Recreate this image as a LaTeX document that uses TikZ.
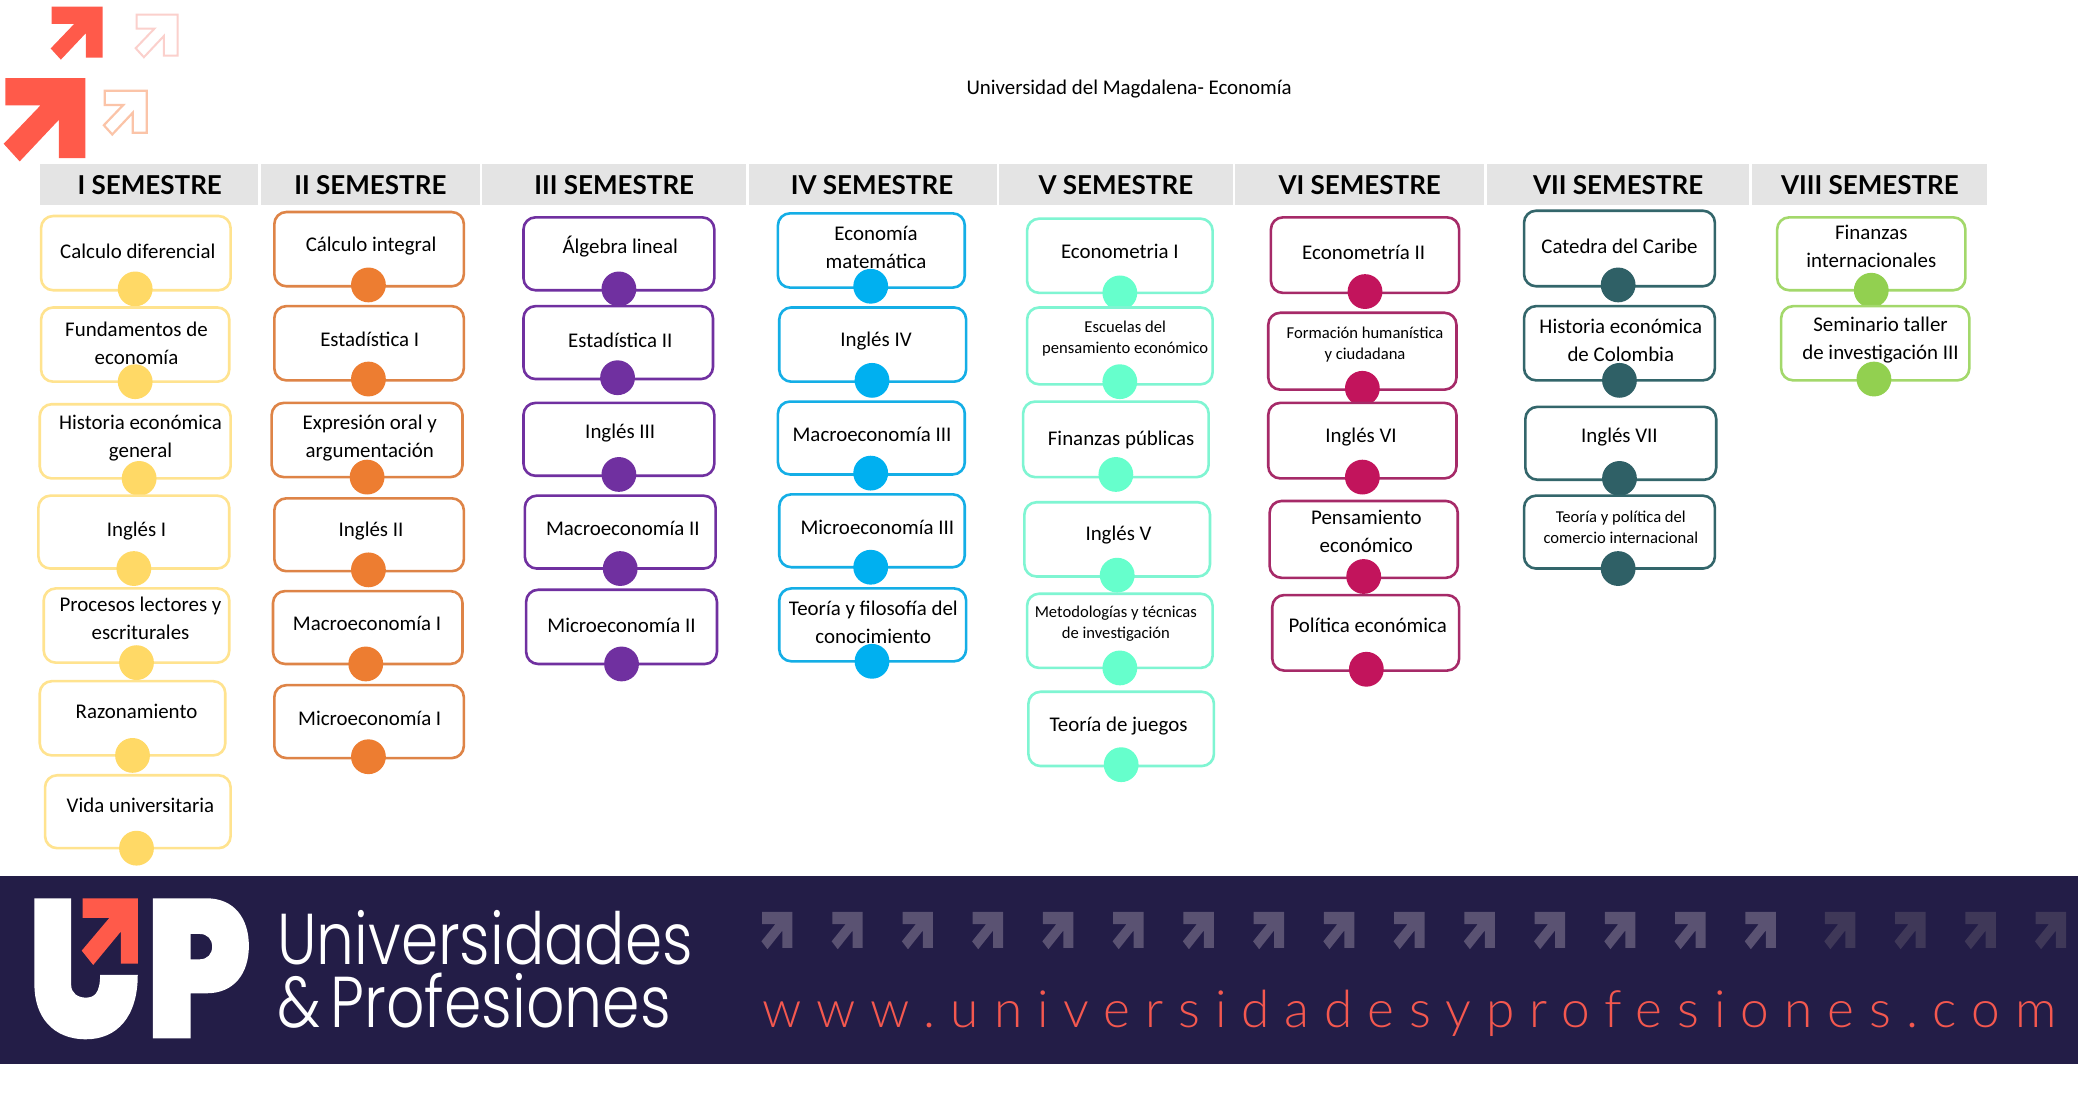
\documentclass[tikz,border=0pt]{standalone}
\usepackage{fontspec}
\setmainfont{Carlito}
\newfontfamily\headfont{Lato}[Scale=1.0]
\newfontfamily\brandfont{Poppins Light}
\newfontfamily\webfont{Lato Light}
\definecolor{bannerbg}{HTML}{231D47}
\definecolor{upred}{HTML}{FF5A4A}
\definecolor{webred}{HTML}{F4584F}
\definecolor{headgray}{HTML}{E4E4E4}
\definecolor{paleone}{HTML}{FBD0CC}
\definecolor{paletwo}{HTML}{FBC4A8}
\definecolor{rowbright}{HTML}{5A5272}
\definecolor{rowdim}{HTML}{3F3858}
\newcounter{courseno}
\newcommand\unitpt{0.66263}
\newcommand\smallcourse{\fontsize{8.3}{11}\selectfont}
% one course: box corners, dot centre, text centre, text
\newcommand\course[9]{%
  \stepcounter{courseno}%
  \pgfmathsetmacro\bw{(#3-#1)*\unitpt}%
  \pgfmathsetmacro\bh{(#4-#2)*\unitpt}%
  \pgfmathsetmacro\bx{(#1+#3)/2}%
  \pgfmathsetmacro\by{(#2+#4)/2}%
  \node[coursebox,minimum width=\bw pt,minimum height=\bh pt] (box\thecourseno) at (\bx,\by) {};
  \node[coursedot] (dot\thecourseno) at (#5,#6) {};
  \node[coursetext] (txt\thecourseno) at (#7,#8+0.7) {#9};
}
\newcommand\header[5]{%
  \pgfmathsetmacro\bw{(#2-#1)*\unitpt}%
  \pgfmathsetmacro\bx{(#1+#2)/2}%
  \node[headband,minimum width=\bw pt] (band#5) at (\bx,139.5) {};
  \node[headtext] (head#5) at (#3,140) {#4};
}
\newcommand\arrowpath{(0,0) -- (1,0) -- (1,1) -- (.67,1) -- (.67,.52) -- (.18,1.04) -- (-.02,.82) -- (.44,.34) -- (0,.34) -- cycle}
\tikzset{
  coursebox/.style={draw=boxc,line width=1.3pt,rounded corners=6pt,fill=white,inner sep=0pt,outer sep=0pt},
  coursedot/.style={circle,fill=dotc,minimum size=17.4pt,inner sep=0pt,outer sep=0pt},
  coursetext/.style={align=center,font=\fontsize{10.45}{14}\selectfont,inner sep=0pt},
  headband/.style={fill=headgray,minimum height=20.5pt,inner sep=0pt,outer sep=0pt},
  headtext/.style={font=\headfont\bfseries\fontsize{13}{15}\selectfont,inner sep=0pt},
  brand/.style={text=white,anchor=base west,inner sep=0pt,font=\brandfont\fontsize{36}{40}\selectfont},
}
\begin{document}
\begin{tikzpicture}[x=0.66263pt,y=-0.66263pt]
\useasboundingbox (0,0) rectangle (1568,830);
\fill[white] (0,0) rectangle (1568,830);

% corner arrows
\begin{scope}[shift={(39,5)},x=25.5pt,y=-25.5pt]
  \fill[upred] \arrowpath;
\end{scope}
\begin{scope}[shift={(103,11)},x=20.5pt,y=-20.5pt]
  \draw[paleone,line width=1pt] \arrowpath;
\end{scope}
\begin{scope}[shift={(4,59)},x=40pt,y=-40pt]
  \fill[upred] \arrowpath;
\end{scope}
\begin{scope}[shift={(79,68.5)},x=21pt,y=-21pt]
  \draw[paletwo,line width=1.1pt] \arrowpath;
\end{scope}

\node[font=\fontsize{10.45}{12}\selectfont,inner sep=0pt] (title) at (852,67) {Universidad del Magdalena- Economía};

% semester headers
\header{30}{195}{113}{I SEMESTRE}{a}
\header{197}{362}{279.5}{II SEMESTRE}{b}
\header{364}{563}{463.5}{III SEMESTRE}{c}
\header{565}{752}{658}{IV SEMESTRE}{d}
\header{754}{930}{842}{V SEMESTRE}{e}
\header{932}{1120}{1026}{VI SEMESTRE}{f}
\header{1122}{1320}{1221}{VII SEMESTRE}{g}
\header{1322}{1499}{1411}{VIII SEMESTRE}{h}

% first semester
\definecolor{boxc}{HTML}{FFE38F}\definecolor{dotc}{HTML}{FFD966}
\course{31}{163}{174}{219}{102}{218}{104}{189}{Calculo diferencial}
\course{31}{232}{173}{288}{102}{288}{103}{258}{Fundamentos de\\economía}
\course{30}{305}{174}{361}{105}{361}{106}{330}{Historia económica\\general}
\course{29}{374}{173}{429}{101}{429}{103}{400}{Inglés I}
\course{33}{444}{173}{500}{103}{500}{106}{466}{Procesos lectores y\\escriturales}
\course{30}{514}{170}{570}{100}{570}{103}{536}{Razonamiento}
\course{34}{585}{174}{640}{103}{640}{106}{607}{Vida universitaria}

% second semester
\definecolor{boxc}{HTML}{DE8447}\definecolor{dotc}{HTML}{ED7D31}
\course{207}{160}{350}{216}{278}{215}{280}{185}{Cálculo integral}
\course{207}{231}{350}{287}{278}{286}{279}{255}{Estadística I}
\course{205}{304}{349}{360}{277}{360}{279}{330}{Expresión oral y\\argumentación}
\course{207}{376}{350}{431}{278}{430}{280}{400}{Inglés II}
\course{206}{446}{349}{501}{276}{501}{277}{470}{Macroeconomía I}
\course{207}{517}{350}{572}{278}{571}{279}{541}{Microeconomía I}

% third semester
\definecolor{boxc}{HTML}{7030A0}\definecolor{dotc}{HTML}{7030A0}
\course{395}{164}{539}{219}{467}{218}{468}{185}{Álgebra lineal}
\course{395}{231}{538}{286}{466}{285}{468}{256}{Estadística II}
\course{395}{304}{539}{359}{467}{358}{468}{326}{Inglés III}
\course{396}{374}{540}{429}{468}{429}{470}{398}{Macroeconomía II}
\course{397}{445}{541}{501}{469}{501}{469}{471}{Microeconomía II}

% fourth semester
\definecolor{boxc}{HTML}{14AEE6}\definecolor{dotc}{HTML}{00B0F0}
\course{587}{161}{728}{217}{657}{216}{661}{186}{Economía\\matemática}
\course{588}{232}{729}{288}{658}{287}{661}{257}{Inglés IV}
\course{587}{303}{728}{358}{657}{357}{658}{327}{Macroeconomía III}
\course{588}{373}{728}{428}{657}{428}{662}{397}{Microeconomía III}
\course{588}{444}{729}{499}{658}{499}{659}{469}{Teoría y filosofía del\\conocimiento}

% fifth semester
\definecolor{boxc}{HTML}{7FF5D2}\definecolor{dotc}{HTML}{66FFCC}
\course{775}{165}{915}{221}{845}{221}{845}{189}{Econometria I}
\course{775}{232}{915}{290}{845}{288}{849}{255}{\smallcourse Escuelas del\\[-3.4pt]\smallcourse pensamiento económico}
\course{772}{303}{912}{360}{842}{358}{846}{331}{Finanzas públicas}
\course{773}{379}{913}{435}{843}{434}{844}{403}{Inglés V}
\course{775}{448}{915}{504}{845}{504}{842}{470}{\smallcourse Metodologías y técnicas\\[-3.4pt]\smallcourse de investigación}
\course{776}{522}{916}{578}{846}{577}{844}{547}{Teoría de juegos}

% sixth semester
\definecolor{boxc}{HTML}{A62A68}\definecolor{dotc}{HTML}{C2145C}
\course{959}{164}{1101}{221}{1030}{220}{1029}{190}{Econometría II}
\course{957}{236}{1099}{294}{1028}{293}{1030}{259}{\smallcourse Formación humanística\\[-3.4pt]\smallcourse y ciudadana}
\course{957}{304}{1099}{361}{1028}{360}{1027}{329}{Inglés VI}
\course{958}{378}{1100}{436}{1029}{435}{1031}{400}{Pensamiento\\económico}
\course{960}{449}{1101}{506}{1031}{505}{1032}{471}{Política económica}

% seventh semester
\definecolor{boxc}{HTML}{33666B}\definecolor{dotc}{HTML}{2F6066}
\course{1150}{159}{1294}{216}{1221}{215}{1222}{185}{Catedra del Caribe}
\course{1150}{231}{1294}{287}{1222}{287}{1223}{256}{Historia económica\\de Colombia}
\course{1151}{307}{1295}{362}{1222}{361}{1222}{329}{Inglés VII}
\course{1150}{374}{1294}{429}{1221}{429}{1223}{397}{\smallcourse Teoría y política del\\[-3.4pt]\smallcourse comercio internacional}

% eighth semester
\definecolor{boxc}{HTML}{A3D86B}\definecolor{dotc}{HTML}{92D050}
\course{1341}{164}{1483}{219}{1412}{219}{1412}{185}{Finanzas\\internacionales}
\course{1344}{231}{1486}{287}{1414}{286}{1419}{256}{Seminario taller\\de investigación III}

% footer banner
\fill[bannerbg] (0,661) rectangle (1568,803);

% logo letters
\begin{scope}[shift={(0,648.9)},x=0.22960pt,y=-0.16665pt]
  \fill[white] (75,115) -- (155,115) -- (155,375) .. controls (155,400) and (170,413) .. (187,413)
    .. controls (205,413) and (218,400) .. (218,345) -- (300,345)
    .. controls (300,470) and (255,538) .. (187,538)
    .. controls (115,538) and (75,470) .. (75,375) -- cycle;
  \fill[white,even odd rule] (333,115) -- (450,115) .. controls (510,115) and (542,175) .. (542,258)
    .. controls (542,340) and (510,400) .. (450,400) -- (415,400) -- (415,535) -- (333,535) -- cycle
    (415,222) -- (435,222) .. controls (452,222) and (462,238) .. (462,260)
    .. controls (462,282) and (452,298) .. (435,298) -- (415,298) -- cycle;
  \fill[upred] (180,115) -- (300,115) -- (300,311) -- (263,311) -- (263,215) -- (203,315) -- (178,272) -- (238,174) -- (180,174) -- cycle;
\end{scope}
\node[brand] (brand1) at (209,727.4) {\scalebox{.83}[1]{Universidades}};
\node[brand] (brand2) at (209,775) {\scalebox{.835}[1]{\&\,Profesiones}};

% row of small arrows
\foreach \px in {575,628,681,734,787,840,893,946,999,1052,1105,1158,1211,1264,1317}{
  \begin{scope}[shift={(\px,688)},x=15.2pt,y=-18pt]
    \fill[rowbright] \arrowpath;
  \end{scope}
}
\foreach \px in {1377,1430,1483,1536}{
  \begin{scope}[shift={(\px,688)},x=15.2pt,y=-18pt]
    \fill[rowdim] \arrowpath;
  \end{scope}
}

\node[anchor=base west,inner sep=0pt,text=webred,font=\webfont\fontsize{25.7}{28}\selectfont\addfontfeature{LetterSpace=29}] (web) at (575,775) {www.universidadesyprofesiones.com};
\end{tikzpicture}
\end{document}
